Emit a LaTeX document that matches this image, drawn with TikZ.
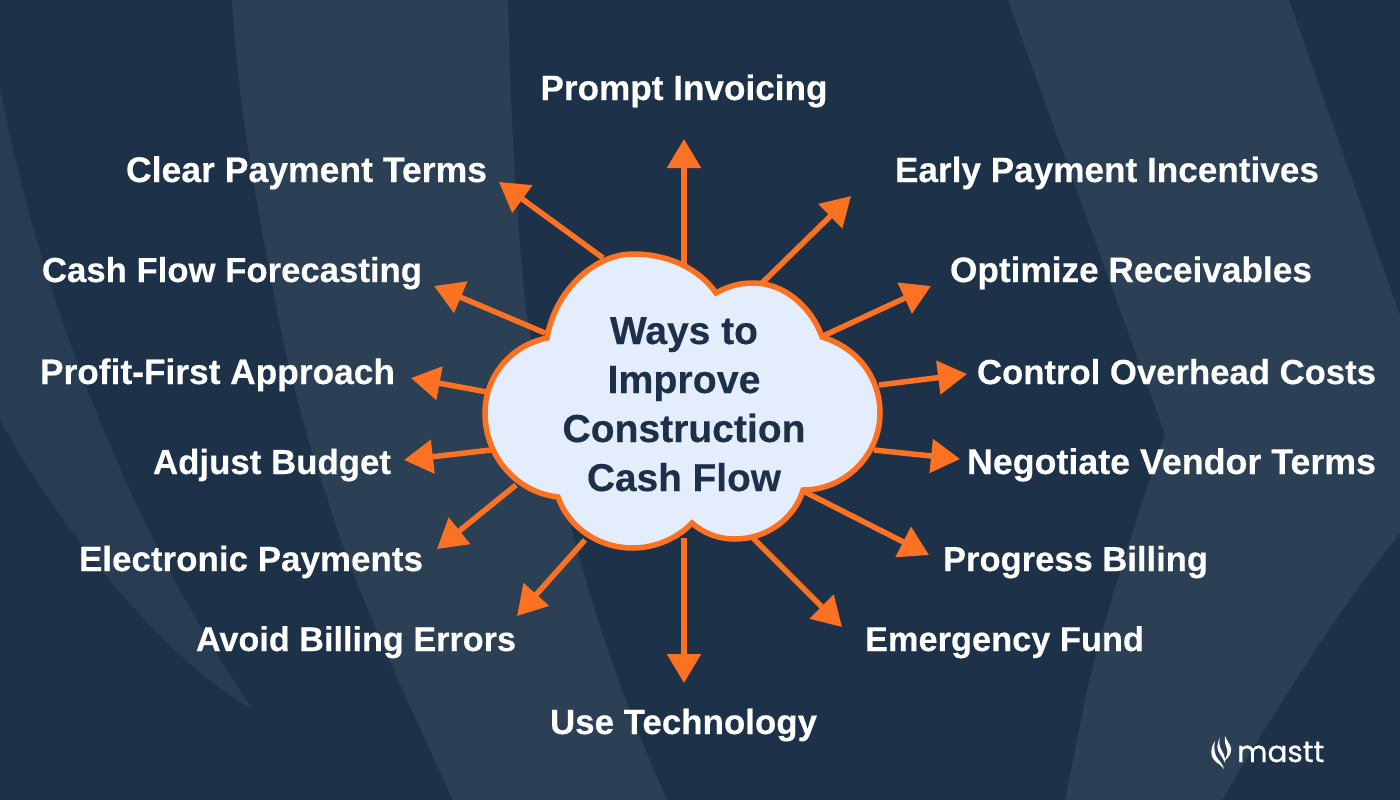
\documentclass[tikz,border=0pt]{standalone}
\usepackage{fontspec,graphicx}
\usetikzlibrary{arrows.meta}
\setmainfont{Liberation Sans}[BoldFont=Liberation Sans Bold,BoldFeatures={FakeBold=0.35}]
\newfontfamily\logofont{Poppins}[FakeBold=0.8]
\definecolor{bgdark}{HTML}{1D3148}
\definecolor{bglight}{HTML}{2B3F55}
\definecolor{bgsoft}{HTML}{283C53}
\definecolor{accent}{HTML}{FC7222}
\definecolor{cloudfill}{HTML}{E4EDFC}
\definecolor{inkdark}{HTML}{1C3049}
\newcommand{\fitw}[2]{\resizebox{#1pt}{!}{#2}}
\tikzset{
  lbl/.style={anchor=base,inner sep=0pt,text=white,font=\fontsize{35}{35}\selectfont\bfseries},
  spoke/.style={draw=accent,line width=5.5pt,-{Triangle[length=29pt,width=33pt]}},
  band/.style={fill=bglight,draw=none},
  softband/.style={fill=bgsoft,draw=none},
  cloudshape/.style={fill=cloudfill,draw=accent,line width=5.5pt,line join=miter},
  hub/.style={anchor=base,inner sep=0pt,text=inkdark,font=\fontsize{40}{40}\selectfont\bfseries},
  logoline/.style={fill=white,draw=none}
}
\begin{document}
\begin{tikzpicture}[x=1pt,y=-1pt]
\useasboundingbox (0,0) rectangle (1400,800);
\fill[bgdark] (0,0) rectangle (1400,800);
% background swooshes
\path[softband] (0,87) .. controls (30,250) and (110,500) .. (253,710)
  .. controls (150,650) and (50,510) .. (0,420) -- cycle;
\path[band] (232,0) .. controls (238,110) and (258,210) .. (275,300)
  .. controls (290,380) and (310,450) .. (328,500)
  .. controls (345,560) and (385,650) .. (407,700) -- (453,800) -- (667,800)
  .. controls (640,740) and (600,640) .. (573,533)
  .. controls (550,440) and (530,340) .. (525,300)
  .. controls (515,200) and (510,100) .. (508,0) -- cycle;
\path[band] (1008,0) -- (1165,434) -- (1143,500) .. controls (1125,555) and (1095,650) .. (1085,700)
  -- (1065,800) -- (1222,800) .. controls (1270,720) and (1330,620) .. (1400,533)
  -- (1400,316) -- (1289,0) -- cycle;
% free ends of the spokes
\foreach \n/\x/\y in {ta/684/264,tb/603/258,tc/545/333,td/487/392,te/491/450,tf/516/485,tg/585/540,th/684/538,
  ti/762/283,tj/823/336,tk/879/385,tl/874/450,tm/805/492,tn/753/538,
  ha/684/139,hb/499/182,hc/434/286,hd/411/378,he/404/460,hf/437/549,hg/517/616,hh/684/683,
  hi/851/196,hj/931/286,hk/967/374,hl/960/459,hm/929/555,hn/842/627}
  \coordinate (\n) at (\x,\y);
\foreach \a/\b in {ta/ha,tb/hb,tc/hc,td/hd,te/he,tf/hf,tg/hg,th/hh,ti/hi,tj/hj,tk/hk,tl/hl,tm/hm,tn/hn}
  \draw[spoke] (\a) -- (\b);
% cloud
\path[cloudshape] (547,338) .. controls (555,290) and (595,254) .. (633,254)
  .. controls (670,254) and (700,270) .. (716,293)
  .. controls (730,285) and (742,283) .. (753,283)
  .. controls (785,283) and (812,308) .. (822,337)
  .. controls (858,348) and (880,378) .. (880,413)
  .. controls (880,455) and (845,490) .. (803,490)
  .. controls (795,518) and (767,539) .. (735,539)
  .. controls (718,539) and (703,533) .. (692,523)
  .. controls (678,538) and (655,548) .. (633,548)
  .. controls (597,548) and (568,526) .. (558,497)
  .. controls (515,492) and (485,455) .. (485,413)
  .. controls (485,375) and (512,345) .. (547,338) -- cycle;
\node[hub] (h1) at (684,344) {\fitw{148}{Ways to}};
\node[hub] (h2) at (684,393) {\fitw{153}{Improve}};
\node[hub] (h3) at (684,442) {\fitw{243}{Construction}};
\node[hub] (h4) at (684,491) {\fitw{194}{Cash Flow}};
% labels
\node[lbl] (l1) at (684,100) {\fitw{287}{Prompt Invoicing}};
\node[lbl] (l2) at (306.5,182) {\fitw{361}{Clear Payment Terms}};
\node[lbl] (l3) at (1107,182) {\fitw{424}{Early Payment Incentives}};
\node[lbl] (l4) at (232,282) {\fitw{380}{Cash Flow Forecasting}};
\node[lbl] (l5) at (1131,282) {\fitw{362}{Optimize Receivables}};
\node[lbl] (l6) at (217.5,384) {\fitw{355}{Profit-First Approach}};
\node[lbl] (l7) at (1176.5,384) {\fitw{399}{Control Overhead Costs}};
\node[lbl] (l8) at (272,474) {\fitw{238}{Adjust Budget}};
\node[lbl] (l9) at (1171.5,474) {\fitw{409}{Negotiate Vendor Terms}};
\node[lbl] (l10) at (251,571) {\fitw{344}{Electronic Payments}};
\node[lbl] (l11) at (1075.5,571) {\fitw{265}{Progress Billing}};
\node[lbl] (l12) at (356,651) {\fitw{320}{Avoid Billing Errors}};
\node[lbl] (l13) at (1004.5,651) {\fitw{279}{Emergency Fund}};
\node[lbl] (l14) at (683.5,734) {\fitw{267}{Use Technology}};
% logo
\node[anchor=base west,inner sep=0pt,text=white] (logo) at (1237,762) {\fitw{87}{\logofont mastt}};
\fill[logoline] (1215,741) .. controls (1209,750) and (1211,758) .. (1216,762)
  .. controls (1219,764) and (1222,766) .. (1224,769)
  .. controls (1222,762) and (1218,760) .. (1216,756)
  .. controls (1214,751) and (1214,746) .. (1215,741) -- cycle;
\fill[logoline] (1220,738) .. controls (1216,745) and (1217,750) .. (1220,754)
  .. controls (1222,757) and (1224,760) .. (1225,763)
  .. controls (1226,757) and (1223,753) .. (1221,749)
  .. controls (1219,745) and (1219,742) .. (1220,738) -- cycle;
\fill[logoline] (1225,736) .. controls (1224,742) and (1226,746) .. (1227,749)
  .. controls (1228,752) and (1227,757) .. (1224,761)
  .. controls (1229,758) and (1232,752) .. (1231,748)
  .. controls (1230,744) and (1227,741) .. (1225,736) -- cycle;
\end{tikzpicture}
\end{document}
